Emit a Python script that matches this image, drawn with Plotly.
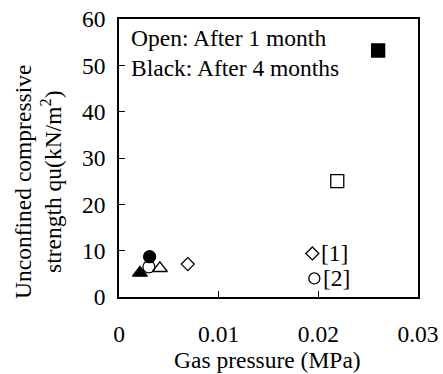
import plotly.graph_objects as go

# Data
x_vals = [0.026, 0.0219, 0.0194, 0.0196, 0.0069, 0.00307, 0.0030, 0.0041, 0.0021]
y_vals = [53.2, 25.0, 9.4, 4.0, 7.1, 8.7, 6.5, 6.2, 5.2]
symbols = ["square", "square-open", "diamond-open", "circle-open", "diamond-open",
           "circle", "circle-open", "triangle-up-open", "triangle-up"]
sizes = [13, 13, 10, 11, 10, 12, 12, 13, 13]
label_x = [0.0194, 0.0196]
label_y = [9.4, 4.0]
label_text = ["[1]", "[2]"]
x_ticks = [0, 0.01, 0.02, 0.03]
x_tick_text = ["0", "0.01", "0.02", "0.03"]
y_ticks = [0, 10, 20, 30, 40, 50, 60]

FONT = "Liberation Serif, Times New Roman, serif"
FS = 23.5

fig = go.Figure()
fig.add_trace(go.Scatter(
    x=x_vals, y=y_vals, mode="markers",
    marker=dict(symbol=symbols, size=sizes, color="black", opacity=1,
                line=dict(color="black", width=1.3)),
    showlegend=False, cliponaxis=False, hoverinfo="skip",
))

annotations = [
    dict(text="Open: After 1 month", xref="paper", yref="paper",
         x=0.035, y=0.93, xanchor="left", yanchor="middle", showarrow=False,
         font=dict(family=FONT, size=FS)),
    dict(text="Black: After 4 months", xref="paper", yref="paper",
         x=0.035, y=0.825, xanchor="left", yanchor="middle", showarrow=False,
         font=dict(family=FONT, size=FS)),
    dict(text="Gas pressure (MPa)", xref="paper", yref="paper",
         x=0.495, y=-0.227, xanchor="center", yanchor="middle", showarrow=False,
         font=dict(family=FONT, size=FS)),
    dict(text="Unconfined compressive<br>strength qu(kN/m<sup>2</sup>)",
         xref="paper", yref="paper", x=-0.27, y=0.415, textangle=-90,
         xanchor="center", yanchor="middle", showarrow=False,
         font=dict(family=FONT, size=FS)),
]
for lx, ly, lt in zip(label_x, label_y, label_text):
    annotations.append(dict(text=lt, x=lx, y=ly, xref="x", yref="y",
                            xanchor="left", yanchor="middle", xshift=7,
                            showarrow=False, font=dict(family=FONT, size=FS)))

fig.update_layout(
    width=443, height=374,
    margin=dict(l=119, r=25, t=19, b=77, autoexpand=False),
    paper_bgcolor="white", plot_bgcolor="white",
    font=dict(family=FONT, size=FS, color="black"),
    xaxis=dict(range=[0, 0.03], tickvals=x_ticks, ticktext=x_tick_text,
               ticks="inside", ticklen=6, tickwidth=1.3, tickcolor="black",
               showline=True, linecolor="black", linewidth=1.5, mirror=True,
               showgrid=False, zeroline=False, ticklabelstandoff=15,
               ticklabeloverflow="allow",
               tickfont=dict(family=FONT, size=FS), automargin=False),
    yaxis=dict(range=[0, 60], tickvals=y_ticks,
               ticks="inside", ticklen=6, tickwidth=1.3, tickcolor="black",
               showline=True, linecolor="black", linewidth=1.5, mirror=True,
               showgrid=False, zeroline=False, ticklabelstandoff=7,
               ticklabeloverflow="allow",
               tickfont=dict(family=FONT, size=FS), automargin=False),
    annotations=annotations,
)

fig.write_html("out.html", config={"displayModeBar": False},
               post_script="document.body.style.margin='0';document.body.style.overflow='hidden';")
